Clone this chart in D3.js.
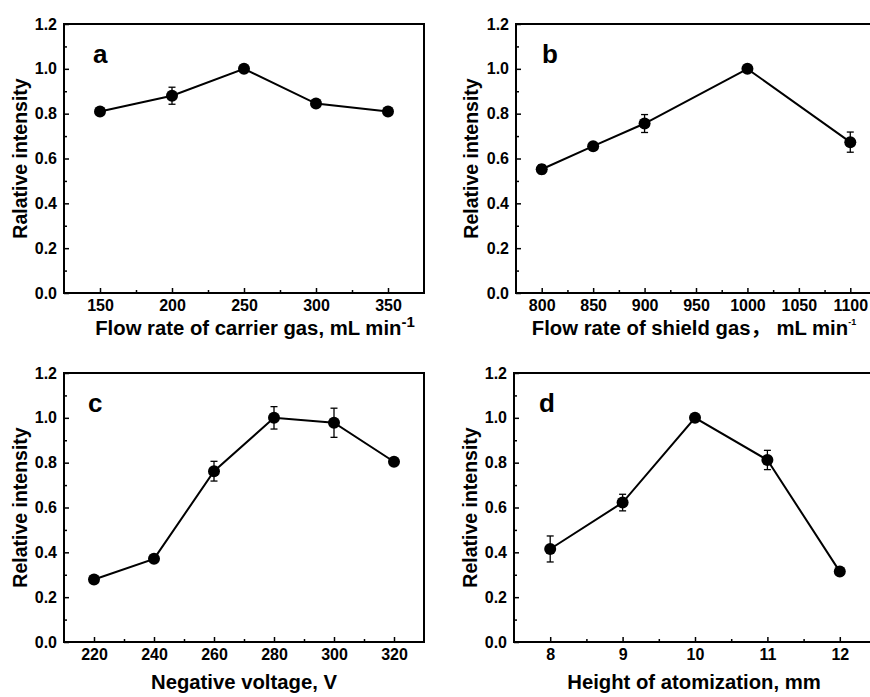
<!DOCTYPE html>
<html>
<head>
<meta charset="utf-8">
<script src="https://cdn.jsdelivr.net/npm/d3@7"></script>
<style>
  body { margin: 0; background: #fff; }
  text { font-family: "Liberation Sans", Arial, "Noto Sans CJK SC", sans-serif; font-weight: bold; fill: #000; }
</style>
</head>
<body>
<svg id="fig" width="870" height="697"></svg>
<script>
// values
const carrierFlow = [150, 200, 250, 300, 350];
const carrierInt = [0.81, 0.88, 1.0, 0.845, 0.81];
const carrierErr = [0.01, 0.038, 0.008, 0.01, 0.01];

const shieldFlow = [800, 850, 900, 1000, 1100];
const shieldInt = [0.552, 0.655, 0.756, 1.0, 0.673];
const shieldErr = [0.02, 0.015, 0.04, 0.01, 0.045];

const voltage = [220, 240, 260, 280, 300, 320];
const voltageInt = [0.279, 0.371, 0.762, 1.0, 0.978, 0.804];
const voltageErr = [0.01, 0.01, 0.044, 0.05, 0.065, 0.01];

const height = [8, 9, 10, 11, 12];
const heightInt = [0.415, 0.622, 1.0, 0.812, 0.314];
const heightErr = [0.058, 0.037, 0.01, 0.043, 0.01];

const yTicks = [0, 0.2, 0.4, 0.6, 0.8, 1.0, 1.2];
const yMinor = [0.1, 0.3, 0.5, 0.7, 0.9, 1.1];

const panels = [
  { id: "a", xs: carrierFlow, ys: carrierInt, es: carrierErr,
    xDomain: [125, 375], xTicks: [150, 200, 250, 300, 350], xMinor: [175, 225, 275, 325],
    yLabel: "Ralative intensity", xLabel: "Flow rate of carrier gas, mL min", sup: "-1", supSize: 15, supDy: -8,
    left: 64, top: 24, right: 424, bottom: 293, yLabelX: 20, titleX: 255, titleY: 335, letterX: 93 },
  { id: "b", xs: shieldFlow, ys: shieldInt, es: shieldErr,
    xDomain: [775, 1125], xTicks: [800, 850, 900, 950, 1000, 1050, 1100], xMinor: [825, 875, 925, 975, 1025, 1075],
    yLabel: "Relative intensity", xLabel: "Flow rate of shield gas\uFF0C mL min", sup: "-1", supSize: 9, supDy: -10,
    left: 516, top: 24, right: 876, bottom: 293, yLabelX: 471, titleX: 694, titleY: 335, letterX: 542 },
  { id: "c", xs: voltage, ys: voltageInt, es: voltageErr,
    xDomain: [210, 330], xTicks: [220, 240, 260, 280, 300, 320], xMinor: [230, 250, 270, 290, 310],
    yLabel: "Relative intensity", xLabel: "Negative voltage, V",
    left: 64, top: 373, right: 424, bottom: 642, yLabelX: 20, titleX: 244, titleY: 689, letterX: 88 },
  { id: "d", xs: height, ys: heightInt, es: heightErr,
    xDomain: [7.5, 12.5], xTicks: [8, 9, 10, 11, 12], xMinor: [8.5, 9.5, 10.5, 11.5],
    yLabel: "Relative intensity", xLabel: "Height of atomization, mm",
    left: 514, top: 373, right: 876, bottom: 642, yLabelX: 470, titleX: 694, titleY: 689, letterX: 539 }
];

const svg = d3.select("#fig");

function styleAxis(g) {
  g.select(".domain").remove();
  g.attr("font-family", "Liberation Sans, Arial, sans-serif")
    .attr("font-size", 16)
    .attr("font-weight", "bold");
  g.selectAll(".tick line").attr("stroke", "#000").attr("stroke-width", 1.5);
}

function renderPanel(p) {
  const g = svg.append("g");
  const x = d3.scaleLinear().domain(p.xDomain).range([p.left, p.right]);
  const y = d3.scaleLinear().domain([0, 1.2]).range([p.bottom, p.top]);

  // x axis, ticks pointing inward
  g.append("g").attr("transform", `translate(0,${p.bottom})`)
    .call(d3.axisBottom(x).tickValues(p.xTicks).tickFormat(d3.format("d"))
      .tickSizeInner(-5).tickSizeOuter(0).tickPadding(7))
    .call(styleAxis);
  g.append("g").attr("transform", `translate(0,${p.bottom})`)
    .call(d3.axisBottom(x).tickValues(p.xMinor).tickFormat("").tickSizeInner(-3).tickSizeOuter(0))
    .call(styleAxis);

  // y axis
  g.append("g").attr("transform", `translate(${p.left},0)`)
    .call(d3.axisLeft(y).tickValues(yTicks).tickFormat(d3.format(".1f"))
      .tickSizeInner(-5).tickSizeOuter(0).tickPadding(7))
    .call(styleAxis);
  g.append("g").attr("transform", `translate(${p.left},0)`)
    .call(d3.axisLeft(y).tickValues(yMinor).tickFormat("").tickSizeInner(-3).tickSizeOuter(0))
    .call(styleAxis);

  // frame
  g.append("rect")
    .attr("x", p.left).attr("y", p.top)
    .attr("width", p.right - p.left).attr("height", p.bottom - p.top)
    .attr("fill", "none").attr("stroke", "#000").attr("stroke-width", 2);

  const pts = p.xs.map((v, i) => ({ x: v, y: p.ys[i], e: p.es[i] }));

  // error bars
  const eb = g.append("g").attr("stroke", "#000").attr("stroke-width", 1.3);
  pts.forEach(d => {
    eb.append("line").attr("x1", x(d.x)).attr("x2", x(d.x))
      .attr("y1", y(d.y - d.e)).attr("y2", y(d.y + d.e));
    [d.y - d.e, d.y + d.e].forEach(v => {
      eb.append("line").attr("x1", x(d.x) - 3.5).attr("x2", x(d.x) + 3.5)
        .attr("y1", y(v)).attr("y2", y(v));
    });
  });

  g.append("path")
    .datum(pts)
    .attr("fill", "none")
    .attr("stroke", "#000")
    .attr("stroke-width", 2)
    .attr("d", d3.line().x(d => x(d.x)).y(d => y(d.y)));

  g.selectAll("circle.pt")
    .data(pts)
    .enter().append("circle")
    .attr("class", "pt")
    .attr("cx", d => x(d.x))
    .attr("cy", d => y(d.y))
    .attr("r", 6)
    .attr("fill", "#000");

  // panel letter
  g.append("text")
    .attr("x", p.letterX)
    .attr("y", p.top + 39)
    .attr("font-size", 26)
    .text(p.id);

  // y title
  g.append("text")
    .attr("transform", `translate(${p.yLabelX},${(p.top + p.bottom) / 2}) rotate(-90)`)
    .attr("text-anchor", "middle")
    .attr("dy", "0.35em")
    .attr("font-size", 19.5)
    .text(p.yLabel);

  // x title
  const t = g.append("text")
    .attr("x", p.titleX)
    .attr("y", p.titleY)
    .attr("text-anchor", "middle")
    .attr("font-size", 20.3)
    .text(p.xLabel);
  if (p.sup) {
    t.append("tspan").attr("font-size", p.supSize).attr("dy", p.supDy).text(p.sup);
  }
}

panels.forEach(renderPanel);
</script>
</body>
</html>
